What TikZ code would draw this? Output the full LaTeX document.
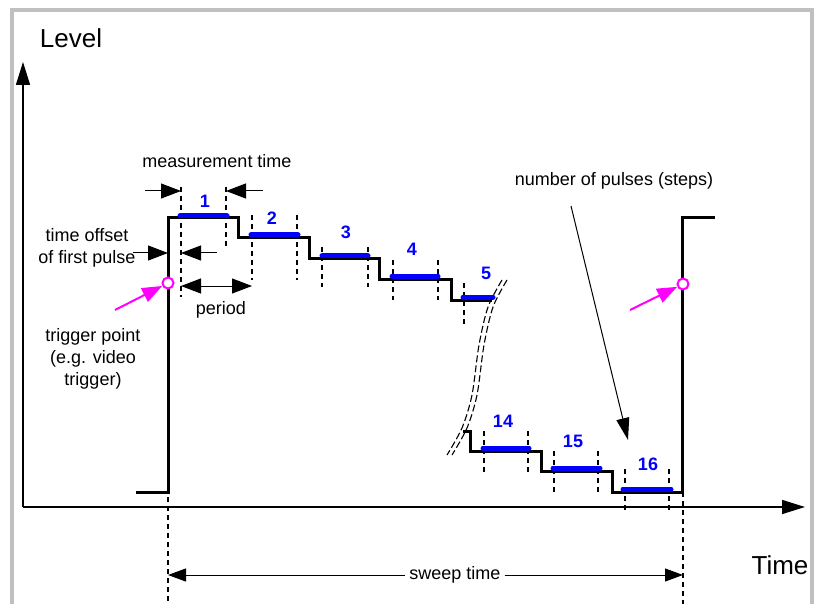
\documentclass[tikz,border=0pt]{standalone}
\usepackage{fontspec}
\setmainfont{Liberation Sans}
\usetikzlibrary{arrows.meta}
\definecolor{framegray}{RGB}{192,192,192}
\definecolor{mag}{RGB}{255,0,255}
\definecolor{barblue}{RGB}{0,0,255}
\begin{document}
\begin{tikzpicture}[x=1pt,y=-1pt,
  sig/.style={line width=3pt, black, line join=miter},
  bar/.style={line width=5pt, barblue, line cap=round},
  guide/.style={line width=1.1pt, dash pattern=on 5pt off 4pt},
  brk/.style={line width=1.1pt, dash pattern=on 7pt off 3pt},
  axis/.style={line width=1.5pt, -{Triangle[length=23pt,width=14pt]}},
  dim/.style={line width=1pt, -{Triangle[length=20pt,width=15pt]}},
  dimb/.style={line width=1pt, {Triangle[length=20pt,width=15pt]}-{Triangle[length=20pt,width=15pt]}},
  sweep/.style={line width=1pt, -{Triangle[length=18pt,width=13pt]}},
  magarrow/.style={line width=2pt, mag, -{Triangle[length=20pt,width=15pt]}},
  trig/.style={circle, draw=mag, line width=2pt, fill=white, minimum size=11pt, inner sep=0pt},
  lbl/.style={font=\fontsize{18}{22}\selectfont, inner sep=0pt, align=center},
  big/.style={font=\fontsize{26}{30}\selectfont, inner sep=0pt},
  num/.style={font=\fontsize{18}{22}\selectfont\bfseries, text=barblue, inner sep=0pt}]
\useasboundingbox (0,0) rectangle (814,604);
% frame
\draw[framegray, line width=4pt] (12,604) -- (12,10) -- (811.5,10) -- (811.5,604);
% axes
\coordinate (o) at (23,507);
\coordinate (ytip) at (23,62);
\coordinate (xtip) at (805,507);
\draw[axis] (o) -- (ytip);
\draw[axis] (o) -- (xtip);
\node[big] (level) at (71,38) {Level};
\node[big] (time) at (780,565) {Time};
% guides
\foreach \x/\a/\b in {181/187/297, 226/187/247, 252/215/280, 297/215/280,
  322/247/287, 368/247/287, 393/260/300, 438/260/300, 464/283/324,
  484/431/472, 528/431/472, 554/451/492, 598/451/492, 625/469/510, 669/469/510,
  168/497/604, 683/492/604}
  \draw[guide] (\x,\a) -- (\x,\b);
% signal
\draw[sig] (136,492) -- (168,492) -- (168,218) -- (238,218) -- (238,238) -- (309,238)
  -- (309,259) -- (379,259) -- (379,279) -- (451,279) -- (451,300) -- (492,300);
\draw[sig] (463,431) -- (470,431) -- (470,451) -- (541,451) -- (541,471) -- (612,471)
  -- (612,492) -- (682,492) -- (682,218) -- (715,218);
% bars
\draw[bar] (180,216) -- (227,216);
\draw[bar] (251,235) -- (298,235);
\draw[bar] (322,256) -- (368,256);
\draw[bar] (392,276) -- (438,276);
\draw[bar] (463,297) -- (493,297);
\draw[bar] (483,448) -- (529,448);
\draw[bar] (553,468) -- (600,468);
\draw[bar] (623,489) -- (671,489);
% numbers
\node[num] (n1) at (205,201) {1};
\node[num] (n2) at (272,218) {2};
\node[num] (n3) at (346,232) {3};
\node[num] (n4) at (412,249) {4};
\node[num] (n5) at (486,273) {5};
\node[num] (n14) at (503,421) {14};
\node[num] (n15) at (573,441) {15};
\node[num] (n16) at (648,464) {16};
% break marks
\draw[brk] plot[smooth] coordinates {(502,280) (488,307) (479,345) (472,395) (462,428) (447,455)};
\draw[brk] plot[smooth] coordinates {(507,280) (493,307) (484,345) (477,395) (467,428) (452,455)};
% measurement time
\node[lbl] (mt) at (217,161) {measurement time};
\coordinate (mtl0) at (145,191); \coordinate (mtl1) at (181,191);
\coordinate (mtr0) at (263,191); \coordinate (mtr1) at (226,191);
\draw[dim] (mtl0) -- (mtl1);
\draw[dim] (mtr0) -- (mtr1);
% time offset
\node[lbl] (to) at (87,248) {time offset\\of first pulse};
\coordinate (tol0) at (133,253); \coordinate (tol1) at (168,253);
\coordinate (tor0) at (217,253); \coordinate (tor1) at (181,253);
\draw[dim] (tol0) -- (tol1);
\draw[dim] (tor0) -- (tor1);
% period
\coordinate (pa) at (181,286); \coordinate (pb) at (252,286);
\draw[dimb] (pa) -- (pb);
\node[lbl] (per) at (221,310) {period};
% trigger
\node[lbl] (tp) at (93,359) {trigger point\\(e.g. video\\trigger)};
\node[trig] (c1) at (168,283) {};
\node[trig] (c2) at (683,284) {};
\coordinate (m1) at (115,310);
\coordinate (m2) at (630,310);
\draw[magarrow] (m1) -- (c1);
\draw[magarrow] (m2) -- (c2);
% number of pulses
\node[lbl] (np) at (614,181) {number of pulses (steps)};
\coordinate (npa) at (571,206); \coordinate (npb) at (628,440);
\draw[line width=1pt, -{Triangle[length=22pt,width=13pt]}] (npa) -- (npb);
% sweep time
\node[lbl, fill=white, inner xsep=4pt] (sw) at (455,575) {sweep time};
\coordinate (swl) at (168,575); \coordinate (swr) at (683,575);
\draw[sweep] (sw.west) -- (swl);
\draw[sweep] (sw.east) -- (swr);
\end{tikzpicture}
\end{document}
